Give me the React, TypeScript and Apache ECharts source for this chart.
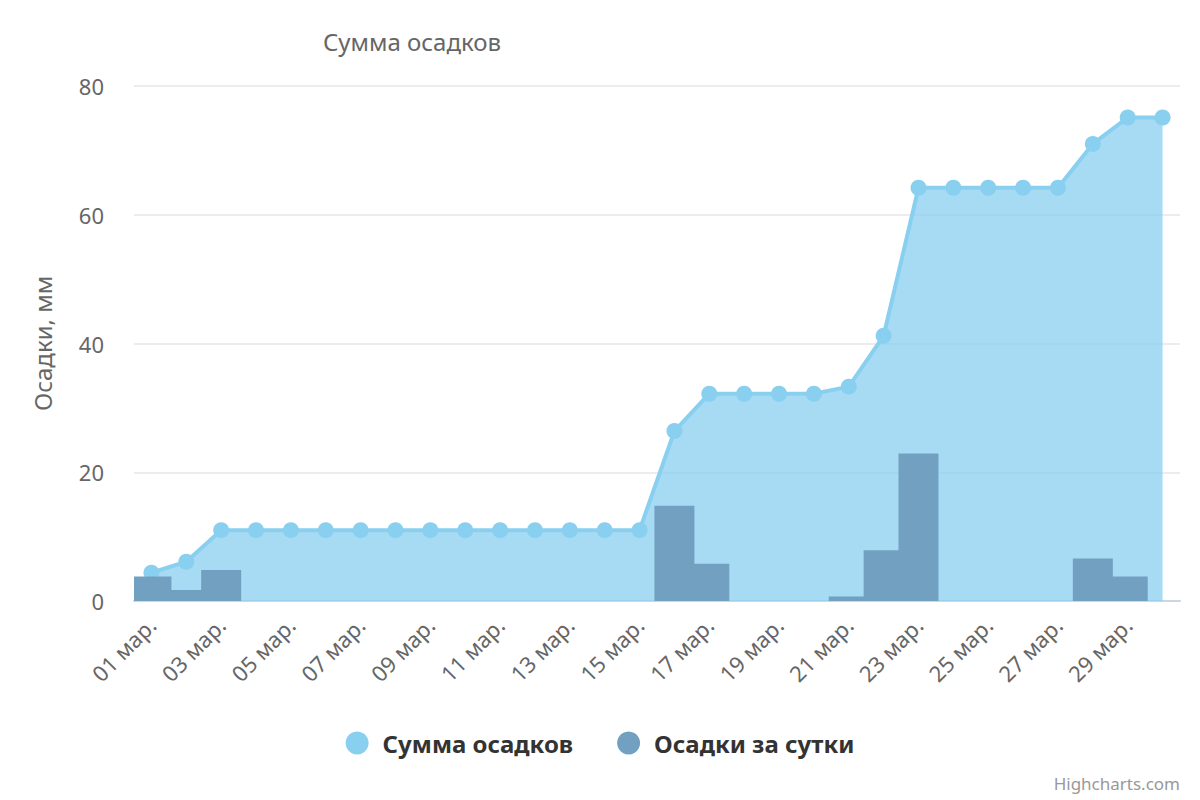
import React, { useEffect, useRef } from "react";
import * as echarts from "echarts";

const categories: string[] = [
  "01 мар.", "02 мар.", "03 мар.", "04 мар.", "05 мар.", "06 мар.", "07 мар.", "08 мар.", "09 мар.", "10 мар.",
  "11 мар.", "12 мар.", "13 мар.", "14 мар.", "15 мар.", "16 мар.", "17 мар.", "18 мар.", "19 мар.", "20 мар.",
  "21 мар.", "22 мар.", "23 мар.", "24 мар.", "25 мар.", "26 мар.", "27 мар.", "28 мар.", "29 мар.", "30 мар.",
];

const totalSeries: number[] = [
  4.4, 6.1, 11.0, 11.0, 11.0, 11.0, 11.0, 11.0, 11.0, 11.0,
  11.0, 11.0, 11.0, 11.0, 11.0, 26.4, 32.2, 32.2, 32.2, 32.2,
  33.3, 41.2, 64.2, 64.2, 64.2, 64.2, 64.2, 71.0, 75.1, 75.1,
];

const dailySeries: number[] = [
  3.8, 1.7, 4.8, 0, 0, 0, 0, 0, 0, 0,
  0, 0, 0, 0, 0, 14.8, 5.8, 0, 0, 0,
  0.7, 7.9, 22.9, 0, 0, 0, 0, 6.6, 3.8, 0,
];

const yTicks = { min: 0, max: 80, interval: 20 };

const FONT = "'Noto Sans', 'DejaVu Sans', sans-serif";

export default function App() {
  const ref = useRef<HTMLDivElement>(null);
  useEffect(() => {
    document.body.style.margin = "0";
    if (!ref.current) return;
    const chart = echarts.init(ref.current, undefined, { renderer: "svg" });
    chart.setOption({
      animation: false,
      backgroundColor: "#ffffff",
      textStyle: { fontFamily: FONT },
      title: {
        text: "Сумма осадков",
        left: 318,
        top: 24,
        textStyle: { fontFamily: FONT, fontSize: 24, fontWeight: "normal", color: "#666666" },
      },
      legend: {
        bottom: 40,
        left: "center",
        icon: "circle",
        itemWidth: 23,
        itemHeight: 23,
        itemGap: 44,
        textStyle: {
          fontFamily: FONT,
          fontSize: 24,
          fontWeight: "bold",
          color: "#333333",
          padding: [0, 0, 0, 9],
        },
        data: ["Сумма осадков", "Осадки за сутки"],
      },
      graphic: [
        {
          type: "text",
          right: 20,
          bottom: 8,
          style: { text: "Highcharts.com", fontFamily: FONT, fontSize: 17, fill: "#999999" },
        },
      ],
      grid: { left: 134, right: 20, top: 86, bottom: 199, containLabel: false },
      xAxis: {
        type: "category",
        data: categories,
        boundaryGap: true,
        axisLine: { show: true, lineStyle: { color: "#ccd6eb", width: 2 } },
        axisTick: { show: false },
        axisLabel: {
          interval: 1,
          rotate: 45,
          margin: 20,
          fontFamily: FONT,
          fontSize: 22,
          color: "#666666",
        },
        splitLine: { show: false },
      },
      yAxis: {
        type: "value",
        min: yTicks.min,
        max: yTicks.max,
        interval: yTicks.interval,
        name: "Осадки, мм",
        nameLocation: "middle",
        nameRotate: 90,
        nameGap: 80,
        nameTextStyle: { fontFamily: FONT, fontSize: 24, color: "#666666" },
        axisLine: { show: false },
        axisTick: { show: false },
        axisLabel: { margin: 30, fontFamily: FONT, fontSize: 22, color: "#666666" },
        splitLine: { lineStyle: { color: "#e6e6e6", width: 1.5 } },
      },
      series: [
        {
          name: "Сумма осадков",
          type: "line",
          data: totalSeries,
          itemStyle: { color: "#89cff0" },
          lineStyle: { color: "#89cff0", width: 4 },
          areaStyle: { color: "#89cff0", opacity: 0.75 },
          symbol: "circle",
          symbolSize: 16,
          z: 2,
        },
        {
          name: "Осадки за сутки",
          type: "bar",
          data: dailySeries,
          barWidth: 40,
          itemStyle: { color: "#72a0c1" },
          z: 3,
        },
      ],
    });
    return () => chart.dispose();
  }, []);
  return <div ref={ref} style={{ width: 1200, height: 800 }} />;
}
